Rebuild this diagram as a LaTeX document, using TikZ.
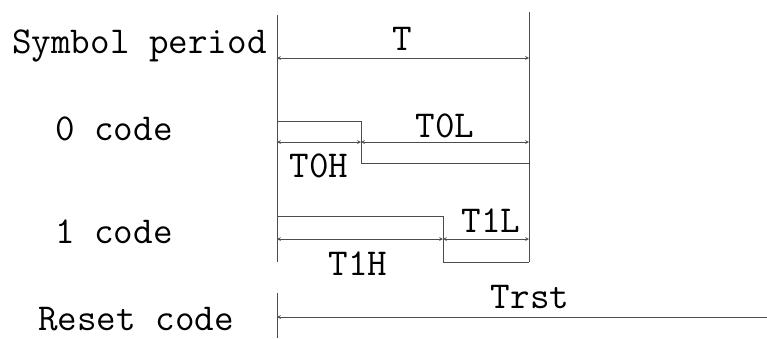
\documentclass[tikz,border=0pt]{standalone}
\usetikzlibrary{arrows}

\begin{document}
\begin{tikzpicture}[x=1pt, y=-1pt,
    %Option for small arrows
    >=stealth, %
    signal/.style={line width=0.8pt, color=black!70},
    dim/.style={line width=0.7pt, color=black!70, <->},
    rowname/.style={font=\ttfamily\fontsize{38}{44}\selectfont, inner sep=0pt, anchor=base west},
    timename/.style={font=\ttfamily\fontsize{38}{44}\selectfont, inner sep=0pt, anchor=base},
]
    \useasboundingbox (0,0) rectangle (767,338);

    % Frame
    \coordinate (top left) at (277,15);
    \coordinate (bottom left) at (277,262);
    \coordinate (top right) at (529,12);
    \coordinate (bottom right) at (529,262);
    \draw[signal] (top left) -- (bottom left);
    \draw[signal] (top right) -- (bottom right);

    % Symbol period
    \node[rowname] (period) at (12,53) {Symbol period};
    \coordinate (T start) at (277,58);
    \coordinate (T end) at (529,58);
    \draw[dim] (T start) -- (T end);
    \node[timename] (T) at (402,50) {T};

    % 0 code
    \node[rowname] (zero) at (55,140) {0 code};
    \coordinate (zero high) at (277,121);
    \coordinate (zero edge) at (361,121);
    \coordinate (zero low) at (529,163);
    \draw[signal] (zero high) -- (zero edge) |- (zero low);
    \coordinate (T0H start) at (277,142);
    \coordinate (T0 mid) at (361,142);
    \coordinate (T0L end) at (529,142);
    \draw[dim] (T0H start) -- (T0 mid);
    \draw[dim] (T0 mid) -- (T0L end);
    \node[timename] (T0L) at (445,137) {T0L};
    \node[timename] (T0H) at (319,177) {T0H};

    % 1 code
    \node[rowname] (one) at (55,243) {1 code};
    \coordinate (one high) at (277,216);
    \coordinate (one edge) at (443,216);
    \coordinate (one low) at (529,262);
    \draw[signal] (one high) -- (one edge) |- (one low);
    \coordinate (T1H start) at (277,239);
    \coordinate (T1 mid) at (443,239);
    \coordinate (T1L end) at (529,239);
    \draw[dim] (T1H start) -- (T1 mid);
    \draw[dim] (T1 mid) -- (T1L end);
    \node[timename] (T1L) at (491,232) {T1L};
    \node[timename] (T1H) at (358,275) {T1H};

    % Reset code
    \node[rowname] (reset) at (38,330) {Reset code};
    \coordinate (reset top) at (277,293);
    \coordinate (reset bottom) at (277,338);
    \draw[signal] (reset top) -- (reset bottom);
    \coordinate (Trst start) at (277,317);
    \coordinate (Trst end) at (767,317);
    \draw[dim, <-] (Trst start) -- (Trst end);
    \node[timename] (Trst) at (530,308) {Trst};
\end{tikzpicture}
\end{document}
